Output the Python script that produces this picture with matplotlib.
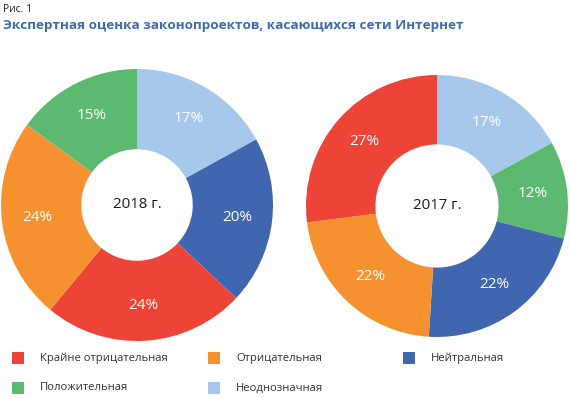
import matplotlib
matplotlib.use('Agg')
import matplotlib.pyplot as plt
from matplotlib.patches import Rectangle

plt.rcParams['font.family'] = ['Open Sans', 'DejaVu Sans']

# данные
categories = ['Крайне отрицательная', 'Отрицательная', 'Нейтральная',
              'Положительная', 'Неоднозначная']
colors = ['#EE4438', '#F5922F', '#3F66AE', '#5CBA70', '#A6C8EA']
years = ['2018 г.', '2017 г.']
values_2018 = [24, 24, 20, 15, 17]
values_2017 = [27, 22, 22, 12, 17]
# порядок секторов по часовой стрелке от 12 часов
order_2018 = [4, 2, 0, 1, 3]
order_2017 = [4, 3, 2, 1, 0]

W, H = 570, 398
fig = plt.figure(figsize=(W / 100, H / 100), dpi=100)


def px_axes(x0, y0, x1, y1):
    # прямоугольник в пикселях (верх-лево) -> координаты фигуры
    return fig.add_axes([x0 / W, 1 - y1 / H, (x1 - x0) / W, (y1 - y0) / H])


def donut(ax, values, order, hole, label):
    vals = [values[i] for i in order]
    cols = [colors[i] for i in order]
    wedges, texts = ax.pie(vals, colors=cols, startangle=90, counterclock=False,
                           labels=['%d%%' % v for v in vals], labeldistance=0.74,
                           wedgeprops=dict(width=1 - hole, linewidth=0),
                           textprops=dict(color='white', fontsize=11,
                                          ha='center', va='center'))
    ax.text(0, 0, label, ha='center', va='center', fontsize=10.8, color='#1a1a1a')
    ax.set_xlim(-1, 1)
    ax.set_ylim(-1, 1)
    ax.set_aspect('equal')
    ax.axis('off')


ax1 = px_axes(1, 69, 273, 341)
donut(ax1, values_2018, order_2018, 0.41, years[0])
ax2 = px_axes(306, 75, 568, 337)
donut(ax2, values_2017, order_2017, 0.47, years[1])

# заголовок
fig.text(3 / W, 1 - 10 / H, 'Рис. 1', fontsize=7.5, color='#222222', va='center')
fig.text(3 / W, 1 - 26 / H, 'Экспертная оценка законопроектов, касающихся сети Интернет',
         fontsize=9.7, fontweight='bold', color='#3D6BB0', va='center')

# легенда
lg = fig.add_axes([0, 0, 1, 1], facecolor='none')
lg.set_xlim(0, W)
lg.set_ylim(H, 0)
lg.axis('off')
leg_pos = [(12, 358), (208, 358), (403, 358), (12, 388), (208, 388)]
for (x, y), name, c in zip(leg_pos, categories, colors):
    lg.add_patch(Rectangle((x, y - 6), 12, 12, color=c, linewidth=0))
    lg.text(x + 28, y, name, fontsize=8.1, color='#333333', va='center')

fig.savefig('out.png', dpi=100)
